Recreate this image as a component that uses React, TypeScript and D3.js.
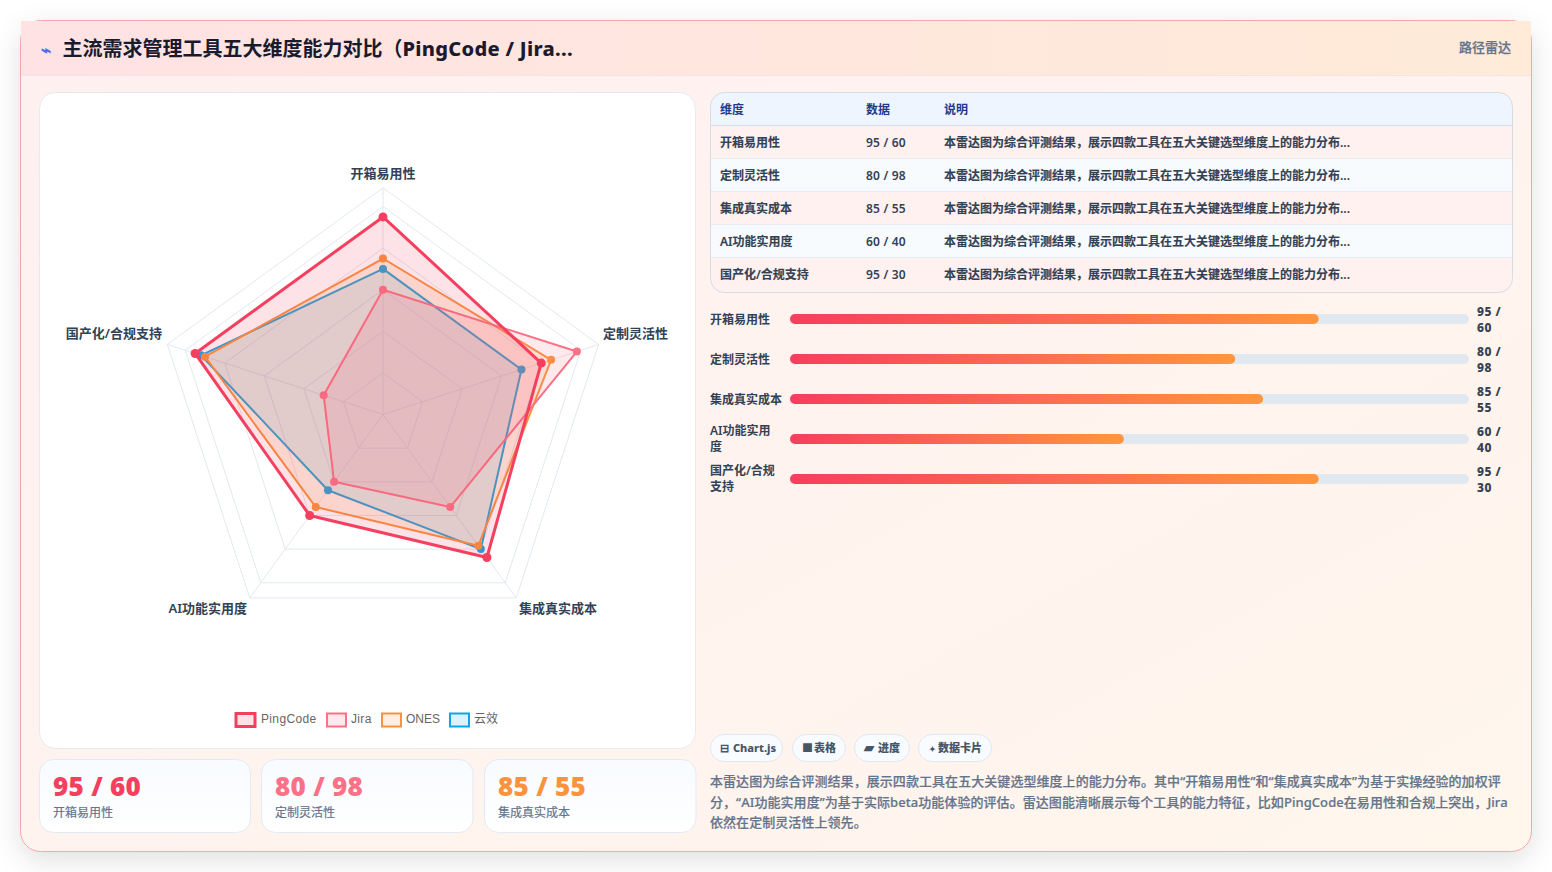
import React from "react";
import * as d3 from "d3";

const dimensions = ["开箱易用性", "定制灵活性", "集成真实成本", "AI功能实用度", "国产化/合规支持"];
const pingCode = [95, 80, 85, 60, 95];
const jira = [60, 98, 55, 40, 30];
const ones = [75, 85, 78, 55, 90];
const yunxiao = [70, 70, 80, 45, 92];
const seriesNames = ["PingCode", "Jira", "ONES", "云效"];
const seriesValues = [pingCode, jira, ones, yunxiao];
const seriesColors = ["#f43f5e", "#fb7185", "#fb923c", "#0ea5e9"];
const ringTicks = [20, 40, 60, 80, 100, 109];
const pairLabels = ["95 / 60", "80 / 98", "85 / 55", "60 / 40", "95 / 30"];
const barLabelLines = [["开箱易用性"], ["定制灵活性"], ["集成真实成本"], ["AI功能实用", "度"], ["国产化/合规", "支持"]];
const barValues = [95, 80, 85, 60, 95];
const noteText = "本雷达图为综合评测结果，展示四款工具在五大关键选型维度上的能力分布...";
const paragraphLines = [
  "本雷达图为综合评测结果，展示四款工具在五大关键选型维度上的能力分布。其中“开箱易用性”和“集成真实成本”为基于实操经验的加权评",
  "分，“AI功能实用度”为基于实际beta功能体验的评估。雷达图能清晰展示每个工具的能力特征，比如PingCode在易用性和合规上突出，Jira",
  "依然在定制灵活性上领先。",
];
const tagIcons = ["⊟", "■", "▰", "✦"];
const tagIconSizes = [11, 11, 13, 8];
const tagTexts = ["Chart.js", "表格", "进度", "数据卡片"];
const tagIconX = [720, 802, 864, 929];
const tagTextX = [733, 814, 878, 938];
const tagBoxes = [[711, 72], [793, 53], [855, 55], [919, 73]];
const statColors = ["#f43f5e", "#fb7185", "#fb923c"];

const FONT = "'Noto Sans','Noto Sans CJK SC',sans-serif";
const CX = 383, CY = 414.5, R = 226.7;
const rScale = d3.scaleLinear().domain([0, 109]).range([0, R]);
const angle = d3.scaleLinear().domain([0, 5]).range([0, Math.PI * 2]);
const radial = d3.lineRadial<number>().angle((_, i) => angle(i)).radius((d) => rScale(d)).curve(d3.curveLinearClosed);
const pt = (v: number, i: number) => d3.pointRadial(angle(i), rScale(v));

const barX = d3.scaleLinear().domain([0, 122]).range([0, 679]);
const labelAnchors = [
  { x: 383, y: 178, a: "middle" },
  { x: 603, y: 338, a: "start" },
  { x: 519, y: 613, a: "start" },
  { x: 247, y: 613, a: "end" },
  { x: 162, y: 338, a: "end" },
];
const legendBoxes = [[236, 261, 3], [327, 351, 2], [382, 406, 2], [450, 474, 2]];

const heavy = (color: string, w = 0.25) => ({ stroke: color, strokeWidth: w });

export default function App() {
  const order = [3, 2, 1, 0];
  return (
    <svg width={1552} height={872} viewBox="0 0 1552 872"
      style={{ position: "absolute", left: 0, top: 0, display: "block", fontFamily: FONT }}>
      <defs>
        <linearGradient id="cardBg" x1="0" y1="0" x2="1" y2="1">
          <stop offset="0" stopColor="#fff0f1" />
          <stop offset="1" stopColor="#fff6ec" />
        </linearGradient>
        <linearGradient id="headBg" x1="0" y1="0" x2="1" y2="0">
          <stop offset="0" stopColor="#ffe2e4" />
          <stop offset="1" stopColor="#ffebd8" />
        </linearGradient>
        <linearGradient id="statBg" x1="0" y1="0" x2="0" y2="1">
          <stop offset="0" stopColor="#f8fbff" />
          <stop offset="1" stopColor="#ffffff" />
        </linearGradient>
        {barValues.map((v, i) => (
          <linearGradient key={i} id={`bar${i}`} x1="0" y1="0" x2="1" y2="0">
            <stop offset="0" stopColor="#f43f5e" />
            <stop offset="1" stopColor="#ff9640" />
          </linearGradient>
        ))}
        <filter id="shadow" x="-5%" y="-10%" width="110%" height="120%">
          <feDropShadow dx="0" dy="8" stdDeviation="14" floodColor="#000" floodOpacity="0.12" />
        </filter>
        <clipPath id="tableClip"><rect x={711} y={93} width={801} height={199} rx={14} /></clipPath>
      </defs>
      <rect width={1552} height={872} fill="#fff" />
      <rect x={20.5} y={20.5} width={1511} height={831} rx={20} fill="url(#cardBg)" stroke="#f4a6ac" filter="url(#shadow)" />
      <rect x={21} y={21} width={1510} height={54} fill="url(#headBg)" />
      <rect x={21} y={75} width={1510} height={1} fill="#f1e4e6" />
      <text x={41} y={56} fontSize={17} fill="#4a6fe3" fontWeight={700}>⌁</text>
      <text x={62.5} y={56} fontSize={20} fontWeight={700} fill="#1a1a2e">
        主流需求管理工具五大维度能力对比（<tspan fontWeight={800} letterSpacing={0.3}>PingCode / Jira...</tspan>
      </text>
      <text x={1511} y={52} fontSize={13} fontWeight={500} fill="#64748b" textAnchor="end" {...heavy("#64748b")}>路径雷达</text>

      <rect x={39.5} y={92.5} width={656} height={656} rx={16} fill="#fff" stroke="#e6ebf2" />

      <g transform={`translate(${CX},${CY})`}>
        {ringTicks.map((t) => (
          <path key={t} d={radial(dimensions.map(() => t)) as string} fill="none" stroke="#e2e8f0" strokeWidth={1} />
        ))}
        {dimensions.map((d, i) => {
          const [x, y] = pt(109, i);
          return <line key={d} x1={0} y1={0} x2={x} y2={y} stroke="#e2e8f0" strokeWidth={1} />;
        })}
        {order.map((s) => (
          <g key={s}>
            <path d={radial(seriesValues[s]) as string} fill={seriesColors[s]} fillOpacity={0.15}
              stroke={seriesColors[s]} strokeWidth={s === 0 ? 3 : 2} strokeLinejoin="round" />
            {seriesValues[s].map((v, i) => {
              const [x, y] = pt(v, i);
              return <circle key={i} cx={x} cy={y} r={s === 0 ? 4.5 : 4} fill={seriesColors[s]} />;
            })}
          </g>
        ))}
      </g>
      {dimensions.map((d, i) => (
        <text key={d} x={labelAnchors[i].x} y={labelAnchors[i].y} textAnchor={labelAnchors[i].a as any}
          fontSize={13} fontWeight={600} fill="#334155">{d}</text>
      ))}
      {seriesNames.map((n, i) => {
        const [bx, tx, sw] = legendBoxes[i];
        return (
          <g key={n}>
            <rect x={bx} y={713.5} width={19} height={13} fill={seriesColors[i]} fillOpacity={0.15}
              stroke={seriesColors[i]} strokeWidth={sw} />
            <text x={tx} y={723} fontSize={12} fill="#666" letterSpacing={i < 2 ? 0.35 : 0}
              fontFamily="'Liberation Sans','Noto Sans CJK SC',sans-serif">{n}</text>
          </g>
        );
      })}

      {[0, 1, 2].map((i) => {
        const x = [39.5, 261.5, 484.5][i];
        return (
          <g key={i}>
            <rect x={x} y={759.5} width={i === 0 ? 211 : 211.5} height={73} rx={14} fill="url(#statBg)" stroke="#e3eaf5" />
            <text x={x + 13.5} y={795.5} fontSize={26} fontWeight={900} letterSpacing={0.3} fill={statColors[i]}>{pairLabels[i]}</text>
            <text x={x + 13.5} y={817} fontSize={12} fill="#64748b" {...heavy("#64748b", 0.2)}>{dimensions[i]}</text>
          </g>
        );
      })}

      <g clipPath="url(#tableClip)">
        <rect x={711} y={93} width={801} height={32} fill="#eef5ff" />
        {dimensions.map((d, i) => (
          <rect key={d} x={711} y={126 + i * 33} width={801} height={33} fill={i % 2 === 0 ? "#fff1f0" : "#f8fbfd"} />
        ))}
        {[125, 158, 191, 224, 257].map((y, i) => (
          <rect key={y} x={711} y={y} width={801} height={1} fill={i === 0 ? "#d5deea" : "#e6ebf1"} />
        ))}
      </g>
      <rect x={710.5} y={92.5} width={802} height={200} rx={14} fill="none" stroke="#d6dce6" />
      {["维度", "数据", "说明"].map((h, i) => (
        <text key={h} x={[720, 866, 944][i]} y={114} fontSize={12} fontWeight={700} fill="#1e3a8a">{h}</text>
      ))}
      {dimensions.map((d, i) => (
        <g key={d} fontSize={12} fontWeight={600} fill="#334155">
          <text x={720} y={147 + i * 33} {...heavy("#334155", 0.12)}>{d}</text>
          <text x={866} y={147 + i * 33} letterSpacing={0.2}>{pairLabels[i]}</text>
          <text x={944} y={147 + i * 33} {...heavy("#334155", 0.12)}>{noteText}</text>
        </g>
      ))}

      {barValues.map((v, i) => {
        const y = 314 + i * 40;
        return (
          <g key={i}>
            {barLabelLines[i].map((l, k) => (
              <text key={k} x={710} y={barLabelLines[i].length === 1 ? y + 10 : y + 1 + k * 16}
                fontSize={12} fontWeight={600} fill="#334155">{l}</text>
            ))}
            <rect x={790} y={y} width={679} height={10} rx={5} fill="#e2e8f0" />
            <rect x={790} y={y} width={barX(v)} height={10} rx={5} fill={`url(#bar${i})`} />
            {pairLabels[i].split(" / ").map((p, k) => (
              <text key={k} x={1477} y={y + 2 + k * 16} fontSize={12} fontWeight={800} letterSpacing={0.5} fill="#334155">
                {k === 0 ? `${p} /` : p}
              </text>
            ))}
          </g>
        );
      })}

      {tagTexts.map((t, i) => (
        <g key={t}>
          <rect x={tagBoxes[i][0] - 0.5} y={734.5} width={tagBoxes[i][1]} height={27} rx={13.5} fill="#f8fbff" stroke="#e2e8f0" />
          <text x={tagIconX[i]} y={752} fontSize={tagIconSizes[i]} fontWeight={700} fill="#475569">{tagIcons[i]}</text>
          <text x={tagTextX[i]} y={752} fontSize={11} fontWeight={800} fill="#475569">{t}</text>
        </g>
      ))}
      {paragraphLines.map((l, i) => (
        <text key={i} x={710} y={786.4 + i * 20.5} fontSize={13} fontWeight={500} letterSpacing={0.06} fill="#64748b" {...heavy("#64748b", 0.2)}>{l}</text>
      ))}
    </svg>
  );
}
